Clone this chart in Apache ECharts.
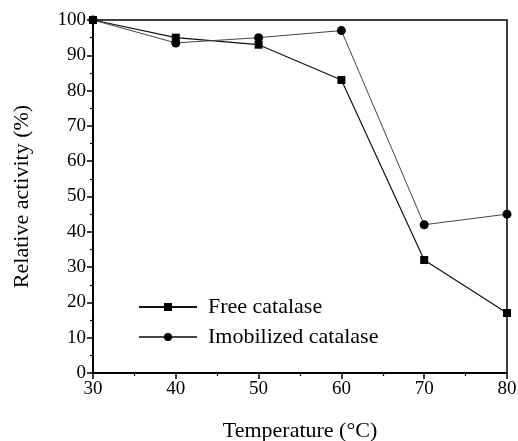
<!DOCTYPE html>
<html>
<head>
<meta charset="utf-8">
<script src="https://cdn.jsdelivr.net/npm/echarts@6/dist/echarts.min.js"></script>
<style>html,body{margin:0;padding:0;background:#fff;}#c{width:518px;height:441px;}</style>
</head>
<body>
<div id="c"></div>
<script>
var temperatures = [30, 40, 50, 60, 70, 80];
var freeCatalase = [100, 95, 93, 83, 32, 17];
var immobilizedCatalase = [100, 93.5, 95, 97, 42, 45];
var seriesNames = ['Free catalase', 'Imobilized catalase'];
var xAxisTitle = 'Temperature (°C)';
var yAxisTitle = 'Relative activity (%)';

function pairs(xs, ys) { return xs.map(function (x, i) { return [x, ys[i]]; }); }

var font = '"Liberation Serif", "DejaVu Serif", serif';
var chart = echarts.init(document.getElementById('c'), null, {renderer: 'canvas'});
chart.setOption({
  backgroundColor: '#fff',
  animation: false,
  grid: {left: 93, right: 11, top: 20, bottom: 68, show: true, borderColor: '#000', borderWidth: 1.5,
         containLabel: false, outerBoundsMode: 'none'},
  legend: {
    orient: 'vertical', left: 133, top: 291, itemWidth: 58, itemHeight: 10, itemGap: 8,
    textStyle: {fontFamily: font, fontSize: 22, color: '#000', padding: [0, 0, 0, 6]},
    data: seriesNames
  },
  xAxis: {
    type: 'value', min: 30, max: 80, interval: 10,
    name: xAxisTitle, nameLocation: 'middle', nameGap: 47,
    nameTextStyle: {fontFamily: font, fontSize: 22, color: '#000'},
    axisLine: {show: true, lineStyle: {color: '#000', width: 2}},
    axisTick: {show: true, length: 6, lineStyle: {color: '#000', width: 1.5}},
    minorTick: {show: true, splitNumber: 2, length: 3, lineStyle: {color: '#000', width: 1.2}},
    splitLine: {show: false},
    axisLabel: {fontFamily: font, fontSize: 19, color: '#000', margin: 7}
  },
  yAxis: {
    type: 'value', min: 0, max: 100, interval: 10,
    name: yAxisTitle, nameLocation: 'middle', nameGap: 60, nameRotate: 90,
    nameTextStyle: {fontFamily: font, fontSize: 22, color: '#000'},
    axisLine: {show: true, lineStyle: {color: '#000', width: 2}},
    axisTick: {show: true, length: 6, lineStyle: {color: '#000', width: 1.5}},
    minorTick: {show: true, splitNumber: 2, length: 3, lineStyle: {color: '#000', width: 1.2}},
    splitLine: {show: false},
    axisLabel: {fontFamily: font, fontSize: 19, color: '#000', margin: 7}
  },
  series: [
    {
      name: seriesNames[0], type: 'line', data: pairs(temperatures, freeCatalase),
      symbol: 'rect', symbolSize: 8,
      itemStyle: {color: '#000'}, lineStyle: {color: '#111', width: 1.2}
    },
    {
      name: seriesNames[1], type: 'line', data: pairs(temperatures, immobilizedCatalase),
      symbol: 'circle', symbolSize: 9,
      itemStyle: {color: '#000'}, lineStyle: {color: '#444', width: 1}
    }
  ]
});
</script>
</body>
</html>
